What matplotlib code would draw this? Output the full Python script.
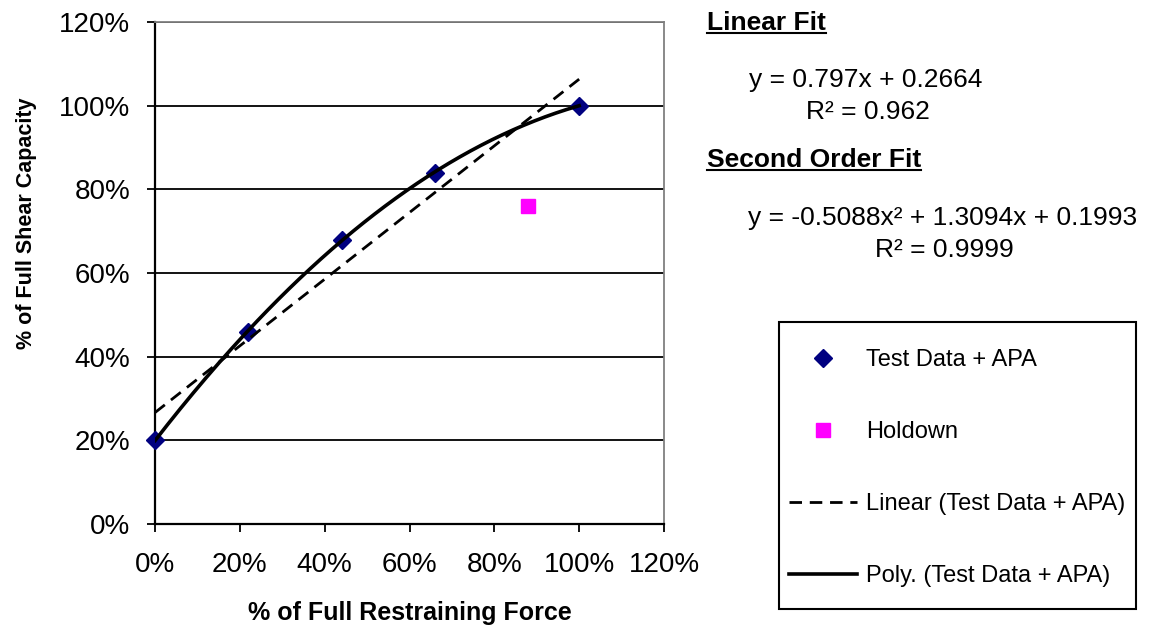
#!/usr/bin/env python3
"""Shear capacity vs restraining force, with linear and 2nd order trendlines."""

import numpy as np
import matplotlib
matplotlib.use("Agg")
import matplotlib.pyplot as plt
from matplotlib.patches import Rectangle
from matplotlib.lines import Line2D
from matplotlib.ticker import PercentFormatter

plt.rcParams["font.family"] = ["Liberation Sans", "DejaVu Sans"]

# data
restraint = [0.0, 0.22, 0.44, 0.66, 1.0]
shear = [0.20, 0.46, 0.68, 0.84, 1.00]
holdown_x = [0.88]
holdown_y = [0.76]

# trendline coefficients (as printed on the chart)
linear_coef = [0.797, 0.2664]
poly_coef = [-0.5088, 1.3094, 0.1993]

ticks = [0, 0.2, 0.4, 0.6, 0.8, 1.0, 1.2]

W, H = 1155, 636


def fx(px):
    return px / W


def fy(py):
    return 1 - py / H


fig = plt.figure(figsize=(W / 100, H / 100), dpi=100)
ax = fig.add_axes([fx(155), fy(524), fx(664) - fx(155), fy(22) - fy(524)])

ax.set_xlim(0, 1.2)
ax.set_ylim(0, 1.2)
ax.set_xticks(ticks)
ax.set_yticks(ticks)
ax.xaxis.set_major_formatter(PercentFormatter(1.0, decimals=0))
ax.yaxis.set_major_formatter(PercentFormatter(1.0, decimals=0))
ax.tick_params(direction="out", length=6, width=1.3, labelsize=20, pad=12,
               colors="black")
ax.tick_params(axis="x", pad=14)
ax.grid(axis="y", color="black", linewidth=1.3)
ax.set_axisbelow(True)

for side in ("left", "bottom"):
    ax.spines[side].set_linewidth(1.6)
    ax.spines[side].set_color("black")
for side in ("top", "right"):
    ax.spines[side].set_linewidth(1.3)
    ax.spines[side].set_color("#808080")

# trendlines
xs = np.linspace(0, 1.0, 200)
ax.plot(xs, np.polyval(linear_coef, xs), color="black", lw=2.0,
        dashes=(4.5, 2.8), zorder=4, label="Linear (Test Data + APA)")
ax.plot(xs, np.polyval(poly_coef, xs), color="black", lw=2.6, zorder=4,
        label="Poly. (Test Data + APA)")

# markers
ax.plot(restraint, shear, linestyle="none", marker="D", ms=9.5, color="#000080",
        zorder=3, label="Test Data + APA", clip_on=False)
ax.plot(holdown_x, holdown_y, linestyle="none", marker="s", ms=10.5,
        color="#FF00FF", zorder=3, label="Holdown")

ax.set_xlabel("% of Full Restraining Force", fontsize=18, fontweight="bold")
ax.set_ylabel("% of Full Shear Capacity", fontsize=15.5, fontweight="bold")
ax.xaxis.set_label_coords(0.5, -0.153)
ax.yaxis.set_label_coords(-0.232, 0.6)

# legend, in the Excel order
h, l = ax.get_legend_handles_labels()
order = [2, 3, 0, 1]
leg = fig.legend([h[i] for i in order], [l[i] for i in order],
                 loc="upper left", bbox_to_anchor=(fx(789), fy(349)),
                 frameon=False, fontsize=17, handlelength=2.9,
                 handletextpad=0.38, labelspacing=2.12, borderpad=0,
                 borderaxespad=0, markerscale=0.95)
fig.add_artist(Rectangle((fx(779), fy(609)), fx(1136) - fx(779),
                         fy(322) - fy(609), transform=fig.transFigure,
                         fill=False, edgecolor="black", lw=1.5))

# fit annotations
fs = 19
heads = [("Linear Fit", 707, 30), ("Second Order Fit", 707, 167)]
head_texts = []
for txt, x, y in heads:
    t = fig.text(fx(x), fy(y), txt, fontsize=19, fontweight="bold",
                 ha="left", va="baseline")
    head_texts.append((t, y))

fig.text(fx(866), fy(80), "y = 0.797x + 0.2664", fontsize=fs,
         ha="center", va="center")
fig.text(fx(868), fy(112), "R² = 0.962", fontsize=fs, ha="center", va="center")
fig.text(fx(943), fy(218), "y = -0.5088x² + 1.3094x + 0.1993", fontsize=fs,
         ha="center", va="center")
fig.text(fx(944), fy(250), "R² = 0.9999", fontsize=fs, ha="center",
         va="center")

# underline the headings
fig.canvas.draw()
renderer = fig.canvas.get_renderer()
for t, y in head_texts:
    bb = t.get_window_extent(renderer)
    fig.add_artist(Line2D([bb.x0 / W, bb.x1 / W], [fy(y + 3), fy(y + 3)],
                          transform=fig.transFigure, color="black", lw=1.5))

fig.savefig("out.png", dpi=100)
